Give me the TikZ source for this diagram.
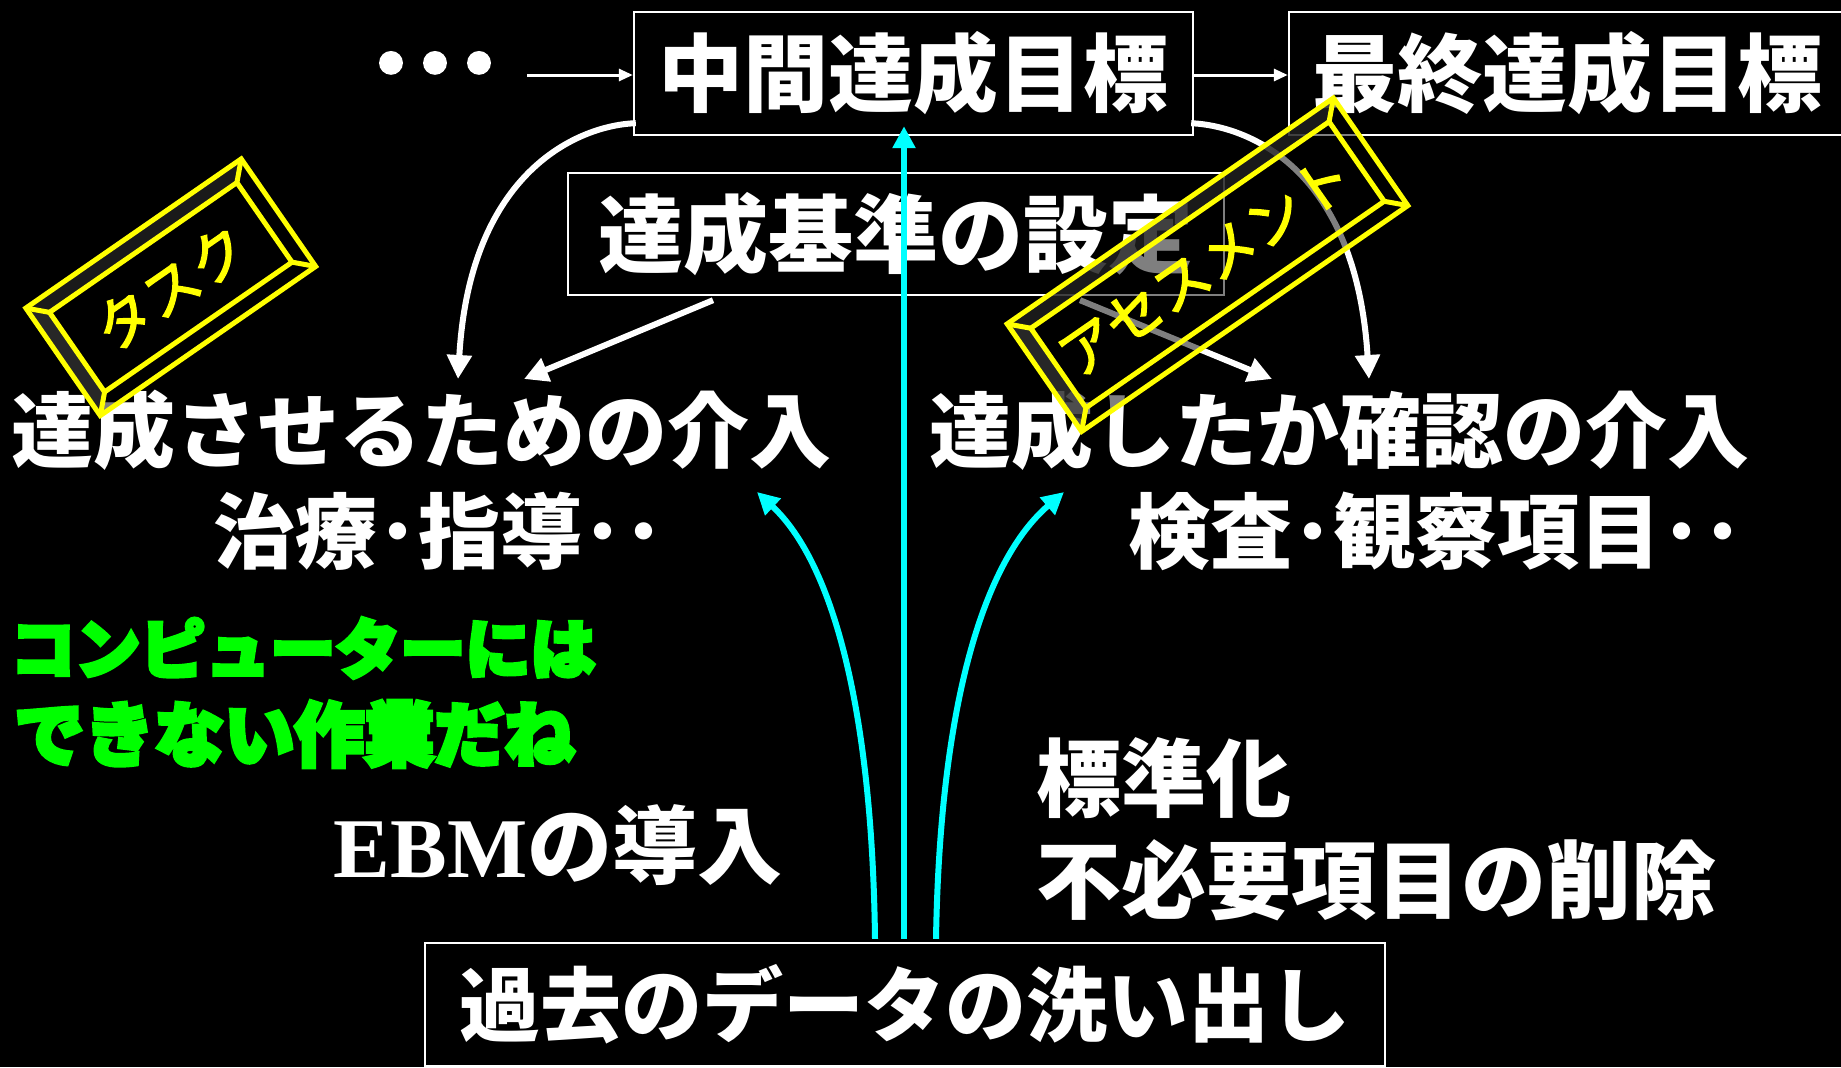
\documentclass[tikz,border=0pt]{standalone}
\usepackage{fontspec}
\newfontfamily\jp{Noto Sans CJK JP}
\newfontfamily\jpheavy{Noto Sans CJK JP}[BoldFeatures={FakeBold=6}]
\newfontfamily\tnr{Liberation Serif}
\usetikzlibrary{arrows.meta,calc}
\definecolor{cy}{RGB}{0,255,255}
\definecolor{grn}{RGB}{0,255,0}
\definecolor{yel}{RGB}{255,255,0}
\tikzset{
  goalbox/.style={draw=white, line width=1.2pt, text=white, inner sep=0pt,
    font=\jp\bfseries\fontsize{42.5pt}{50pt}\selectfont},
  lbl/.style={text=white, inner sep=0pt, font=\jp\bfseries\fontsize{41pt}{48pt}\selectfont},
  biglbl/.style={text=white, inner sep=0pt, font=\jp\bfseries\fontsize{42.5pt}{50pt}\selectfont},
  grnlbl/.style={text=grn, inner sep=0pt, anchor=west},
  ylbl/.style={text=yel, inner sep=0pt},
  warrow/.style={draw=white, line width=3pt, -{Triangle[length=12pt,width=12pt]}},
  carrow/.style={draw=cy, line width=3pt, -{Triangle[length=11pt,width=11pt]}},
  thinarrow/.style={draw=white, line width=1.5pt, -{Triangle[length=7pt,width=6pt]}},
  yline/.style={draw=yel, line width=2.5pt, line join=miter},
  bandA/.style={fill=black!85!white, fill opacity=0.7},
  bandB/.style={fill=black!78!white, fill opacity=0.7},
}
% yellow bevelled label box: #1 x, #2 y, #3 half length, #4 angle
\newcommand\ybevel[4]{%
\begin{scope}[shift={(#1,#2)},rotate=#4]
\pgfmathsetmacro\oa{#3}\pgfmathsetmacro\ia{#3-17}
\fill[black,fill opacity=0.5] (-\oa,-65.4) rectangle (\oa,65.4);
\fill[bandA] (-\oa,-65.4) -- (\oa,-65.4) -- (\ia,-48.4) -- (-\ia,-48.4) -- cycle;
\fill[bandB] (-\oa,-65.4) -- (-\ia,-48.4) -- (-\ia,48.4) -- (-\oa,65.4) -- cycle;
\draw[yline] (-\oa,-65.4) rectangle (\oa,65.4);
\draw[yline] (-\ia,-48.4) rectangle (\ia,48.4);
\draw[yline] (-\oa,-65.4) -- (-\ia,-48.4) (\oa,-65.4) -- (\ia,-48.4)
  (\oa,65.4) -- (\ia,48.4) (-\oa,65.4) -- (-\ia,48.4);
\end{scope}}
\begin{document}
\begin{tikzpicture}[x=0.5pt,y=-0.5pt]
\fill[black] (0,0) rectangle (1841,1067);
\useasboundingbox (0,0) rectangle (1841,1067);

% boxes
\node[goalbox, minimum width=279.5pt, minimum height=61.5pt] (g1) at (913.5,73.5) {中間達成目標};
\node[goalbox, minimum width=278pt, minimum height=61.5pt] (g2) at (1567,73.5) {最終達成目標};
\node[goalbox, minimum width=328pt, minimum height=61pt] (crit) at (896,234) {達成基準の設定};
\node[goalbox, font=\jp\bfseries\fontsize{40.5pt}{48pt}\selectfont, minimum width=480pt, minimum height=61.5pt] (data) at (905,1004.5) {過去のデータの洗い出し};
\node[text=white, inner sep=0pt, font=\jpheavy\bfseries\fontsize{44pt}{48pt}\selectfont] (dots) at (435,75) {･･･};

% labels
\node[lbl] (left) at (421,430) {達成させるための介入};
\node[lbl] (lsub) at (439,531) {治療･指導･･};
\node[lbl] (right) at (1339,430) {達成したか確認の介入};
\node[lbl] (rsub) at (1436,531) {検査･観察項目･･};
\node[biglbl, anchor=west] (std) at (1036,778) {標準化};
\node[biglbl, anchor=west] (del) at (1036,880) {不必要項目の削除};
\node[biglbl] (ebm) at (558,845) {{\tnr\bfseries EBM}の導入};
\node[grnlbl, font=\jpheavy\bfseries\fontsize{32.5pt}{38pt}\selectfont] (gline1) at (10,648) {コンピューターには};
\node[grnlbl, font=\jpheavy\bfseries\fontsize{35pt}{40pt}\selectfont] (gline2) at (14,734) {できない作業だね};

% connectors
\draw[thinarrow] ($(dots.east)+(26,0)$) -- (g1.west |- dots.east);
\draw[thinarrow] (g1.east |- dots.east) -- (g2.west |- dots.east);

\coordinate (tipL) at (458,379);
\coordinate (tipR) at (1369,379);
\draw[warrow] ($(g1.south west)+(3,-13)$) .. controls (580,125) and (470,170) .. (tipL);
\draw[warrow] ($(g1.south east)+(-3,-13)$) .. controls (1250,126) and (1356,170) .. (tipR);
\coordinate (tipSL) at (524,379);
\coordinate (tipSR) at (1272,379);
\draw[warrow] ($(crit.south)+(-183,4)$) -- (tipSL);
\draw[warrow] ($(crit.south)+(184,4)$) -- (tipSR);

\coordinate (cL) at (757,492);
\coordinate (cR) at (1064,492);
\draw[carrow] ($(data.north)+(-1,-3)$) -- ($(g1.south)+(-9.5,-10)$);
\draw[carrow] ($(data.north)+(-30,-3)$) .. controls (872,700) and (830,560) .. (cL);
\draw[carrow] ($(data.north)+(31,-3)$) .. controls (940,700) and (985,560) .. (cR);

% yellow bevel labels
\ybevel{170.75}{287.25}{131}{34.7}
\ybevel{1207.5}{264.75}{198.4}{34.7}
\node[ylbl, rotate=34.7, font=\jp\fontsize{28.5pt}{30pt}\selectfont] (task) at (170.75,287.25) {\addfontfeature{FakeBold=2.5}タスク};
\node[ylbl, rotate=34.7, font=\jp\fontsize{28.5pt}{30pt}\selectfont] (assess) at (1205,266) {\addfontfeature{FakeBold=2.5}アセスメント};
\end{tikzpicture}
\end{document}
